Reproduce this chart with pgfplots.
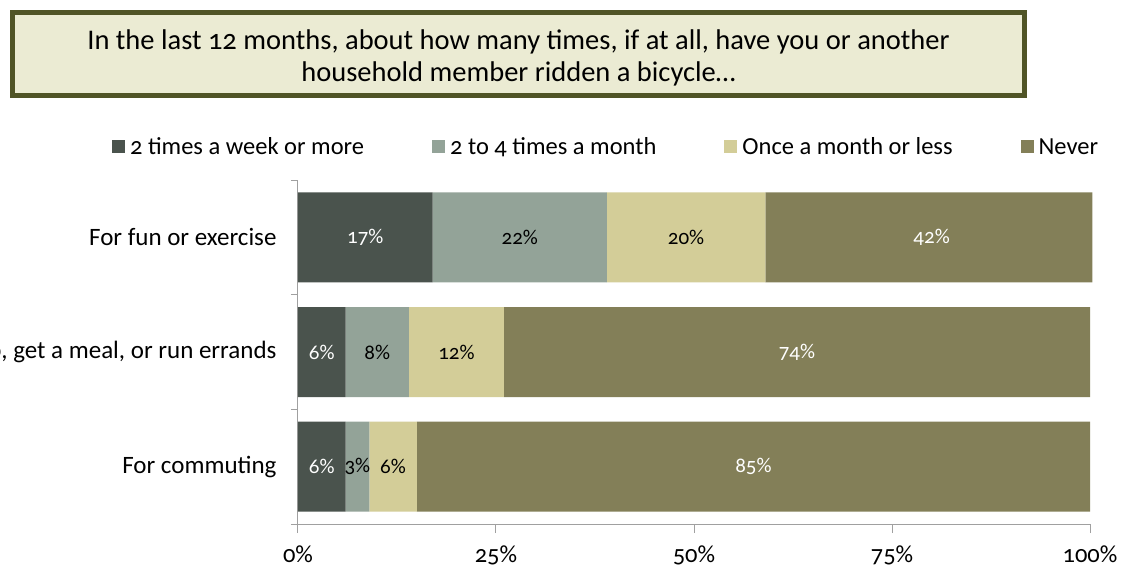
\documentclass[border=0pt]{standalone}
\usepackage{pgfplots}
\pgfplotsset{compat=1.18}
\usepackage{fontspec}
\setmainfont{Carlito}[Numbers=OldStyle]

\definecolor{cA}{HTML}{4A534D}
\definecolor{cB}{HTML}{93A398}
\definecolor{cC}{HTML}{D3CD98}
\definecolor{cD}{HTML}{837F58}
\definecolor{boxfill}{HTML}{EBEBD3}
\definecolor{boxdraw}{HTML}{505426}
\definecolor{axgray}{HTML}{A0A0A0}

\pgfplotsset{base/.style={width=792pt,height=344pt,scale only axis,
  xmin=0,xmax=100,ymin=-0.5,ymax=2.5,clip=false}}

\begin{document}
\begin{tikzpicture}[x=1pt,y=1pt]
\useasboundingbox (-298,-47) rectangle (825,524);
\clip (-298,-47) rectangle (825,524);
\node[draw=boxdraw, line width=5pt, fill=boxfill, minimum width=1012pt,
  minimum height=83pt, inner sep=0pt] at (220.5,470) {};
\node[align=center, font=\fontsize{28.5}{32}\selectfont] at (220.5,466)
  {In the last 12 months, about how many times, if at all, have you or another\\household member ridden a bicycle\ldots};

\begin{axis}[base, xbar stacked, bar width=90pt,
  axis x line*=bottom, axis y line*=left,
  axis line style={axgray, line width=1pt},
  tick style={axgray, line width=1pt},
  tick align=outside,
  major tick length=9pt,
  minor tick length=7pt,
  xtick={0,25,50,75,100},
  xticklabels={0\%,25\%,50\%,75\%,100\%},
  ytick={0,1,2},
  yticklabels={For commuting,{To shop, get a meal, or run errands},For fun or exercise},
  minor ytick={-0.5,0.5,1.5,2.5},
  major y tick style={draw=none},
  ticklabel style={text=black},
  xticklabel style={font=\fontsize{24.5}{28}\selectfont, yshift=-9pt},
  yticklabel style={font=\fontsize{25}{28}\selectfont, xshift=-9pt},
  legend columns=4,
  legend style={draw=none, fill=none, at={(0.389,1.096)}, anchor=center,
    font=\fontsize{24.5}{28}\selectfont,
    /tikz/every odd column/.append style={column sep=3pt},
    /tikz/every even column/.append style={column sep=66pt}},
  legend image code/.code={\path[#1] (0pt,-6.5pt) rectangle (13pt,6.5pt);},
]
\addplot[fill=cA, draw=none] coordinates {(6,0) (6,1) (17,2)};
\addplot[fill=cB, draw=none] coordinates {(3,0) (8,1) (22,2)};
\addplot[fill=cC, draw=none] coordinates {(6,0) (12,1) (20,2)};
\addplot[fill=cD, draw=none] coordinates {(85,0) (74,1) (41.3,2)};
\legend{2 times a week or more, 2 to 4 times a month, Once a month or less, Never}
\end{axis}

\begin{axis}[base, hide axis,
  nodes near coords style={anchor=center, font=\fontsize{21}{24}\selectfont}]
\addplot[draw=none, mark=none, nodes near coords, point meta=explicit symbolic,
  nodes near coords style={text=white}]
  coordinates {(3,0) [6\%] (3,1) [6\%] (8.5,2) [17\%]};
\addplot[draw=none, mark=none, nodes near coords, point meta=explicit symbolic,
  nodes near coords style={text=black}]
  coordinates {(7.5,0) [3\%] (10,1) [8\%] (28,2) [22\%]};
\addplot[draw=none, mark=none, nodes near coords, point meta=explicit symbolic,
  nodes near coords style={text=black}]
  coordinates {(12,0) [6\%] (20,1) [12\%] (49,2) [20\%]};
\addplot[draw=none, mark=none, nodes near coords, point meta=explicit symbolic,
  nodes near coords style={text=white}]
  coordinates {(57.5,0) [85\%] (63,1) [74\%] (80,2) [42\%]};
\end{axis}
\end{tikzpicture}
\end{document}
